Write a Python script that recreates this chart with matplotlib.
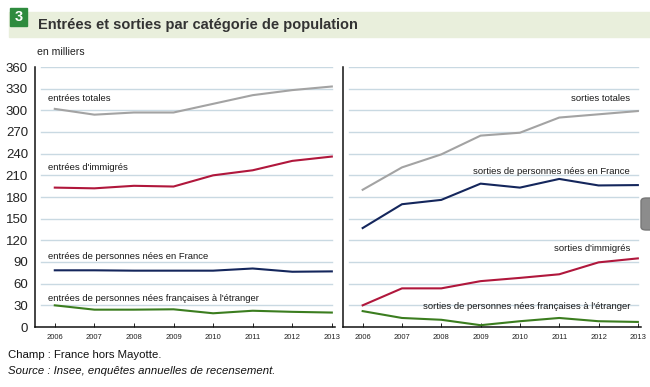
import matplotlib
matplotlib.use("Agg")
import matplotlib.pyplot as plt
from matplotlib.patches import Rectangle, FancyBboxPatch

plt.rcParams['font.family'] = ['Liberation Sans', 'DejaVu Sans']

years = [2006, 2007, 2008, 2009, 2010, 2011, 2012, 2013]

# entrées (milliers)
entrees_totales = [302, 294, 297, 297, 309, 321, 328, 333]
entrees_immigres = [193, 192, 195.5, 194.5, 210, 217, 230, 236]
entrees_nes_france = [78.5, 78.5, 78, 78, 78, 81, 76.5, 77]
entrees_nes_fr_etranger = [30, 24, 24, 24.5, 19, 22.5, 21, 20]

# sorties (milliers)
sorties_totales = [190, 221, 239, 265, 269, 290, 294.5, 299]
sorties_nes_france = [137, 170, 176, 198.5, 193, 205, 196, 196.5]
sorties_immigres = [30, 53.5, 53.5, 63.5, 68, 73, 89.5, 95]
sorties_nes_fr_etranger = [22, 12.5, 10, 2.5, 8, 12.5, 8, 7]

yticks = [0, 30, 60, 90, 120, 150, 180, 210, 240, 270, 300, 330, 360]

GRAY = '#a3a3a3'
RED = '#b0173c'
NAVY = '#14265c'
GREEN = '#3b7d1f'
GRID = '#c9d9e2'

fig = plt.figure(figsize=(6.5, 3.87), dpi=100)

# header band
fig.patches.append(Rectangle((9 / 650, 1 - 37 / 387), 641 / 650, 25 / 387,
                             transform=fig.transFigure, color='#e9efdc', zorder=0))
fig.patches.append(Rectangle((10 / 650, 1 - 26 / 387), 17 / 650, 18 / 387,
                             transform=fig.transFigure, color='#2e8b3e', zorder=1))
fig.text(18.5 / 650, 1 - 17 / 387, '3', color='white', fontsize=10.5,
         fontweight='bold', ha='center', va='center')
fig.text(38 / 650, 1 - 25 / 387, 'Entrées et sorties par catégorie de population',
         color='#333333', fontsize=10.5, fontweight='bold', va='center')
fig.text(37 / 650, 1 - 52 / 387, 'en milliers', fontsize=7.6, color='#222222', va='center')

# grey side tab
fig.patches.append(FancyBboxPatch((641 / 650, 1 - 230 / 387), 15 / 650, 32 / 387,
                                  boxstyle='round,pad=0,rounding_size=0.008',
                                  transform=fig.transFigure, color='#8c8c8c',
                                  ec='#777777', zorder=5))

ax_l = fig.add_axes([35 / 650, 60 / 387, 300 / 650, 260 / 387])
ax_r = fig.add_axes([343 / 650, 60 / 387, 298 / 650, 260 / 387])


def style(ax, show_y):
    ax.set_xlim(2005.5, 2013.08)
    ax.set_ylim(0, 360)
    ax.set_yticks(yticks)
    for y in yticks[1:]:
        ax.axhline(y, xmin=0.02, xmax=0.99, color=GRID, lw=1.0, zorder=0)
    ax.set_xticks(years)
    ax.set_xticklabels([str(y) for y in years], fontsize=5.5, color='#222222')
    ax.tick_params(axis='x', length=3, width=0.6, direction='in', pad=5)
    if show_y:
        ax.tick_params(axis='y', length=0, labelsize=9.5, pad=5)
        ax.set_yticklabels([str(y) for y in yticks], color='#222222')
    else:
        ax.tick_params(axis='y', length=0, labelleft=False)
    for s in ['top', 'right']:
        ax.spines[s].set_visible(False)
    for s in ['left', 'bottom']:
        ax.spines[s].set_color('#111111')
        ax.spines[s].set_linewidth(1.1)
    ax.set_facecolor('none')


style(ax_l, True)
style(ax_r, False)

lw = 1.5
ax_l.plot(years, entrees_totales, color=GRAY, lw=lw)
ax_l.plot(years, entrees_immigres, color=RED, lw=lw)
ax_l.plot(years, entrees_nes_france, color=NAVY, lw=lw)
ax_l.plot(years, entrees_nes_fr_etranger, color=GREEN, lw=lw)

ax_r.plot(years, sorties_totales, color=GRAY, lw=lw)
ax_r.plot(years, sorties_nes_france, color=NAVY, lw=lw)
ax_r.plot(years, sorties_immigres, color=RED, lw=lw)
ax_r.plot(years, sorties_nes_fr_etranger, color=GREEN, lw=lw)

lab = dict(fontsize=6.8, color='#1a1a1a', va='center')
ax_l.text(2005.83, 317, 'entrées totales', ha='left', **lab)
ax_l.text(2005.83, 221, "entrées d'immigrés", ha='left', **lab)
ax_l.text(2005.83, 98, 'entrées de personnes nées en France', ha='left', **lab)
ax_l.text(2005.83, 40, "entrées de personnes nées françaises à l'étranger", ha='left', **lab)

ax_r.text(2012.8, 316, 'sorties totales', ha='right', **lab)
ax_r.text(2012.8, 216, 'sorties de personnes nées en France', ha='right', **lab)
ax_r.text(2012.8, 109, "sorties d'immigrés", ha='right', **lab)
ax_r.text(2012.8, 28, "sorties de personnes nées françaises à l'étranger", ha='right', **lab)

fig.text(8 / 650, 1 - 355 / 387, 'Champ : France hors Mayotte.', fontsize=8.2,
         color='#111111', va='center')
fig.text(8 / 650, 1 - 371 / 387, 'Source : Insee, enquêtes annuelles de recensement.',
         fontsize=8.2, color='#111111', va='center', style='italic')

fig.savefig('out.png', dpi=100)
